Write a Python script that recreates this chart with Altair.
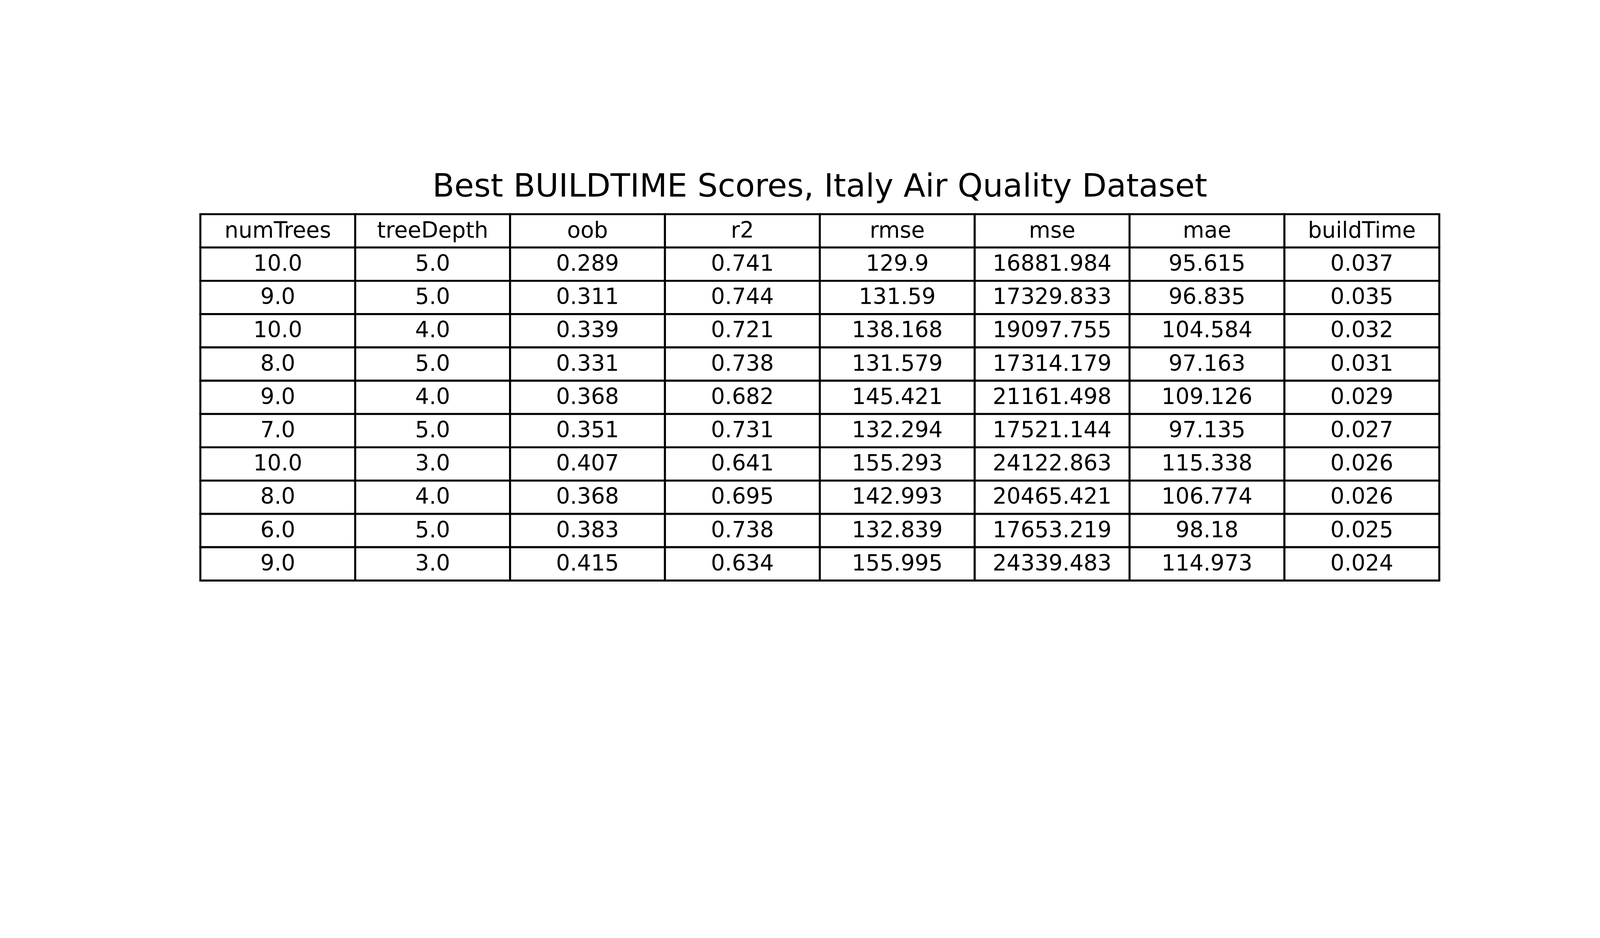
import pandas as pd
import altair as alt

columns = ["numTrees", "treeDepth", "oob", "r2", "rmse", "mse", "mae", "buildTime"]
numTrees = ["10.0", "9.0", "10.0", "8.0", "9.0", "7.0", "10.0", "8.0", "6.0", "9.0"]
treeDepth = ["5.0", "5.0", "4.0", "5.0", "4.0", "5.0", "3.0", "4.0", "5.0", "3.0"]
oob = ["0.289", "0.311", "0.339", "0.331", "0.368", "0.351", "0.407", "0.368", "0.383", "0.415"]
r2 = ["0.741", "0.744", "0.721", "0.738", "0.682", "0.731", "0.641", "0.695", "0.738", "0.634"]
rmse = ["129.9", "131.59", "138.168", "131.579", "145.421", "132.294", "155.293", "142.993", "132.839", "155.995"]
mse = ["16881.984", "17329.833", "19097.755", "17314.179", "21161.498", "17521.144",
       "24122.863", "20465.421", "17653.219", "24339.483"]
mae = ["95.615", "96.835", "104.584", "97.163", "109.126", "97.135", "115.338", "106.774", "98.18", "114.973"]
buildTime = ["0.037", "0.035", "0.032", "0.031", "0.029", "0.027", "0.026", "0.026", "0.025", "0.024"]

table = [numTrees, treeDepth, oob, r2, rmse, mse, mae, buildTime]

records = []
for c, name in enumerate(columns):
    records.append({"col": name, "row": 0, "label": name})
    for r, v in enumerate(table[c]):
        records.append({"col": name, "row": r + 1, "label": v})
df = pd.DataFrame(records)

x = alt.X("col:N", sort=columns, scale=alt.Scale(paddingInner=0, paddingOuter=0), axis=None)
y = alt.Y("row:O", scale=alt.Scale(paddingInner=0, paddingOuter=0), axis=None)

base = alt.Chart(df).encode(x=x, y=y)
cells = base.mark_rect(fill="white", stroke="black", strokeWidth=6)
texts = base.mark_text(font="DejaVu Sans", fontSize=66, color="black").encode(text="label:N")

chart = (cells + texts).properties(
    width=3719, height=1099,
    padding={"left": 592, "top": 448, "right": 473, "bottom": 600},
    autosize=alt.AutoSizeParams(type="none"),
    title=alt.TitleParams("Best BUILDTIME Scores, Italy Air Quality Dataset",
                          font="DejaVu Sans", fontSize=96, fontWeight="normal",
                          color="black", offset=30, anchor="middle"),
).configure_view(stroke=None)

chart.save("out.html", embed_options={"renderer": "svg", "actions": False})
